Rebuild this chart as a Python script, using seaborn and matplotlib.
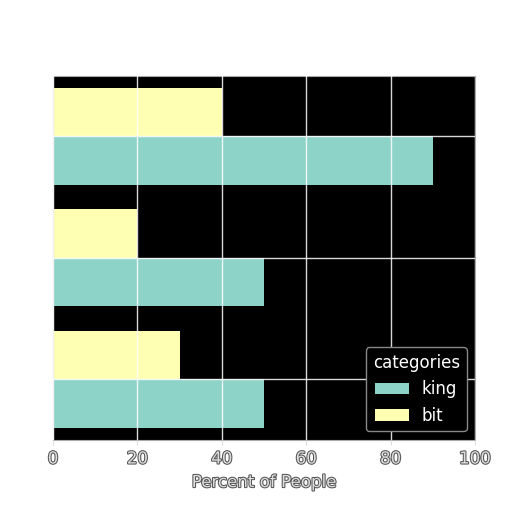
import matplotlib
matplotlib.use("Agg")
import matplotlib.pyplot as plt
import matplotlib.patheffects as pe
import pandas as pd
import seaborn as sns

# data, top group first
groups = ["g1", "g2", "g3"]
king = [90, 50, 50]
bit = [40, 20, 30]

df = pd.DataFrame({
    "group": groups * 2,
    "value": king + bit,
    "categories": ["king"] * 3 + ["bit"] * 3,
})

plt.style.use("dark_background")
halo = [pe.withStroke(linewidth=1.5, foreground="#555555")]

fig = plt.figure(figsize=(5.12, 5.12), dpi=100, facecolor="white")
ax = fig.add_axes([0.1035, 0.141, 0.824, 0.711])
ax.set_facecolor("black")

palette = {"king": "#8dd3c7", "bit": "#ffffb3"}
sns.barplot(data=df, y="group", x="value", hue="categories",
            hue_order=["bit", "king"], palette=palette, orient="h",
            width=0.8, saturation=1, ax=ax)

ax.set_xlim(0, 100)
ax.set_xticks([0, 20, 40, 60, 80, 100])
ax.set_yticklabels([])
ax.tick_params(axis="y", length=0)
ax.tick_params(axis="x", colors="#dddddd", labelsize=12)
for t in ax.get_xticklabels():
    t.set_path_effects(halo)
ax.set_ylabel("")
ax.set_xlabel("Percent of People", fontsize=12, color="#dddddd", path_effects=halo)

ax.set_axisbelow(False)
ax.grid(True, color="white", linewidth=1, alpha=0.85)
for s in ax.spines.values():
    s.set_color("#aaaaaa")

handles, labels = ax.get_legend_handles_labels()
leg = ax.legend(handles[::-1], labels[::-1], title="categories", loc="lower right",
                fontsize=12, title_fontsize=12, facecolor="black",
                edgecolor="#888888", framealpha=1)

fig.savefig("out.png", dpi=100, facecolor="white")
